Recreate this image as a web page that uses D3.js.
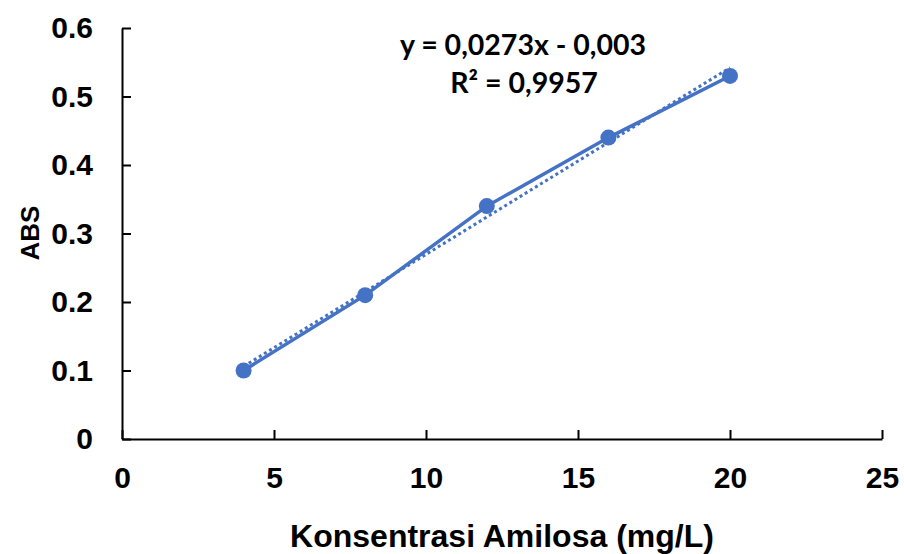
<!DOCTYPE html>
<html>
<head>
<meta charset="utf-8">
<script src="https://cdn.jsdelivr.net/npm/d3@7"></script>
<style>
  body { margin: 0; background: #fff; }
  svg { display: block; }
  .tick text { font-family: "Liberation Sans", Arial, sans-serif; font-weight: bold; font-size: 30px; fill: #000; }
</style>
</head>
<body>
<div id="chart"></div>
<script>
// concentration (mg/L) and absorbance readings
var konsentrasi = [4, 8, 12, 16, 20];
var abs = [0.1, 0.21, 0.34, 0.44, 0.53];
var xTicks = [0, 5, 10, 15, 20, 25];
var yTicks = [0, 0.1, 0.2, 0.3, 0.4, 0.5, 0.6];
var eqLabel = "y = 0,0273x - 0,003";
var r2Label = "R² = 0,9957";

var width = 904, height = 554;
var blue = "#4472C4";

var svg = d3.select("#chart").append("svg")
    .attr("width", width)
    .attr("height", height);

var x = d3.scaleLinear().domain([0, 25]).range([122, 882]);
var y = d3.scaleLinear().domain([0, 0.6]).range([439, 28]);

// x axis, ticks point up into the plot
var xAxis = svg.append("g")
    .attr("transform", "translate(0," + y(0) + ")")
    .call(d3.axisBottom(x).tickValues(xTicks).tickSizeInner(-9).tickSizeOuter(0).tickPadding(28)
        .tickFormat(d3.format("d")));
xAxis.select(".domain").attr("stroke", "#000").attr("stroke-width", 2);
xAxis.selectAll(".tick line").attr("stroke", "#000").attr("stroke-width", 2);
xAxis.selectAll(".tick text").attr("dy", "0.71em");

// y axis, ticks point right
var yAxis = svg.append("g")
    .attr("transform", "translate(" + x(0) + ",0)")
    .call(d3.axisLeft(y).tickValues(yTicks).tickSizeInner(-9).tickSizeOuter(0).tickPadding(29)
        .tickFormat(function(d){ return d === 0 ? "0" : d3.format(".1f")(d); }));
yAxis.select(".domain").attr("stroke", "#000").attr("stroke-width", 2);
yAxis.selectAll(".tick line").attr("stroke", "#000").attr("stroke-width", 2);

// least squares trendline from the data
var n = konsentrasi.length;
var mx = d3.mean(konsentrasi), my = d3.mean(abs);
var sxy = 0, sxx = 0;
for (var i = 0; i < n; i++) {
    sxy += (konsentrasi[i] - mx) * (abs[i] - my);
    sxx += (konsentrasi[i] - mx) * (konsentrasi[i] - mx);
}
var slope = sxy / sxx, icpt = my - slope * mx;
var x0 = d3.min(konsentrasi), x1 = d3.max(konsentrasi);

svg.append("line")
    .attr("x1", x(x0)).attr("y1", y(slope * x0 + icpt))
    .attr("x2", x(x1)).attr("y2", y(slope * x1 + icpt))
    .attr("stroke", blue)
    .attr("stroke-width", 3)
    .attr("stroke-dasharray", "3,3");

var pts = konsentrasi.map(function(d, i){ return [d, abs[i]]; });

svg.append("path")
    .datum(pts)
    .attr("fill", "none")
    .attr("stroke", blue)
    .attr("stroke-width", 3.5)
    .attr("d", d3.line().x(function(d){ return x(d[0]); }).y(function(d){ return y(d[1]); }));

svg.selectAll("circle.pt")
    .data(pts).enter()
    .append("circle")
    .attr("class", "pt")
    .attr("cx", function(d){ return x(d[0]); })
    .attr("cy", function(d){ return y(d[1]); })
    .attr("r", 8)
    .attr("fill", blue);

// equation labels
svg.append("text")
    .attr("x", 523).attr("y", 55)
    .attr("text-anchor", "middle")
    .style("font-family", "Lato, 'Open Sans', sans-serif")
    .style("font-weight", "bold")
    .style("font-size", "28.5px")
    .text(eqLabel);
svg.append("text")
    .attr("x", 524).attr("y", 93)
    .attr("text-anchor", "middle")
    .style("font-family", "Lato, 'Open Sans', sans-serif")
    .style("font-weight", "bold")
    .style("font-size", "28.5px")
    .text(r2Label);

// axis titles
svg.append("text")
    .attr("x", 502).attr("y", 547)
    .attr("text-anchor", "middle")
    .style("font-family", "'Liberation Sans', Arial, sans-serif")
    .style("font-weight", "bold")
    .style("font-size", "32px")
    .text("Konsentrasi Amilosa (mg/L)");
svg.append("text")
    .attr("transform", "translate(39,233) rotate(-90)")
    .attr("text-anchor", "middle")
    .style("font-family", "'Liberation Sans', Arial, sans-serif")
    .style("font-weight", "bold")
    .style("font-size", "26px")
    .text("ABS");
</script>
</body>
</html>
